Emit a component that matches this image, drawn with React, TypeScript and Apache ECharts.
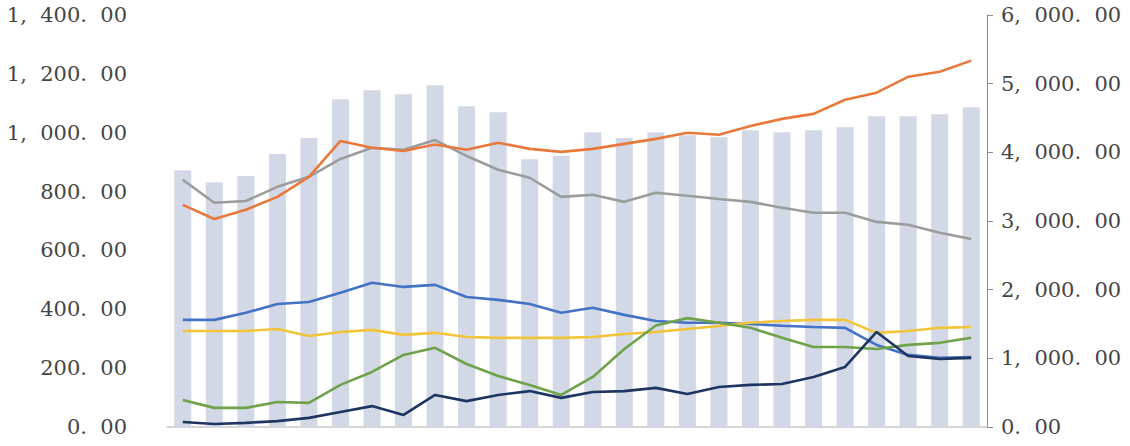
import React, { useEffect, useRef } from "react";
import * as echarts from "echarts";

const categories = Array.from({ length: 26 }, (_, i) => String(i + 1));

const barValues = [3740, 3566, 3654, 3974, 4207, 4774, 4905, 4847, 4978, 4672, 4585, 3900, 3950, 4294, 4207, 4294, 4250, 4220, 4323, 4294, 4323, 4367, 4527, 4527, 4556, 4658];

const orangeValues = [755, 707, 738, 782, 850, 972, 949, 938, 960, 942, 966, 945, 935, 945, 962, 979, 1000, 993, 1023, 1047, 1064, 1112, 1136, 1190, 1207, 1245];
const grayValues = [840, 762, 768, 816, 850, 911, 949, 942, 975, 921, 874, 847, 782, 789, 765, 796, 786, 775, 765, 745, 728, 728, 697, 687, 660, 639];
const blueValues = [364, 364, 388, 418, 425, 456, 490, 476, 483, 442, 432, 418, 388, 405, 381, 360, 354, 354, 350, 344, 340, 337, 279, 245, 235, 238];
const yellowValues = [326, 326, 326, 333, 309, 323, 330, 313, 320, 306, 303, 303, 303, 306, 316, 323, 333, 343, 354, 360, 364, 364, 320, 326, 337, 340];
const greenValues = [92, 65, 65, 85, 82, 143, 187, 245, 269, 214, 173, 143, 109, 170, 265, 345, 370, 354, 337, 303, 272, 272, 265, 279, 286, 303];
const navyValues = [17, 10, 14, 20, 31, 51, 71, 41, 109, 88, 109, 122, 99, 119, 122, 133, 112, 136, 143, 146, 170, 204, 323, 241, 231, 235];

const gap = "\u00a0\u00a0";
const fmt = (v: number) =>
  v
    .toLocaleString("en-US", { minimumFractionDigits: 2, maximumFractionDigits: 2 })
    .replace(/,/g, "," + gap)
    .replace(/\./g, "." + gap);

export default function App() {
  const ref = useRef<HTMLDivElement>(null);
  useEffect(() => {
    if (!ref.current) return;
    const chart = echarts.init(ref.current, null, { renderer: "svg" });
    const labelStyle = {
      fontFamily: "DejaVu Serif",
      fontSize: 21,
      color: "#454545",
      formatter: (v: number) => fmt(v),
    };
    const line = (name: string, data: number[], color: string, z: number) => ({
      name,
      type: "line",
      yAxisIndex: 0,
      data,
      showSymbol: false,
      symbol: "none",
      lineStyle: { color, width: 2.6 },
      itemStyle: { color },
      z,
    });
    chart.setOption({
      animation: false,
      grid: { left: 167, right: 143, top: 15, bottom: 19, containLabel: false },
      xAxis: {
        type: "category",
        data: categories,
        axisLine: { show: true, lineStyle: { color: "#c8c8c8", width: 1.5 } },
        axisTick: { show: false },
        axisLabel: { show: false },
      },
      yAxis: [
        {
          type: "value",
          min: 0,
          max: 1400,
          interval: 200,
          position: "left",
          axisLine: { show: false },
          axisTick: { show: false },
          splitLine: { show: false },
          axisLabel: { ...labelStyle, margin: 40 },
        },
        {
          type: "value",
          min: 0,
          max: 6000,
          interval: 1000,
          position: "right",
          axisLine: { show: true, lineStyle: { color: "#8c8c8c", width: 1 } },
          axisTick: { show: true, inside: false, length: 6, lineStyle: { color: "#8c8c8c" } },
          splitLine: { show: false },
          axisLabel: { ...labelStyle, margin: 14 },
        },
      ],
      series: [
        {
          name: "bar",
          type: "bar",
          yAxisIndex: 1,
          data: barValues,
          barWidth: 17,
          itemStyle: { color: "#d2d8e5" },
          z: 1,
        },
        line("blue", blueValues, "#4472c4", 3),
        line("orange", orangeValues, "#e8793a", 4),
        line("gray", grayValues, "#9c9c9c", 3),
        line("yellow", yellowValues, "#f2c43a", 3),
        line("green", greenValues, "#6fa24a", 3),
        line("navy", navyValues, "#1d3560", 5),
      ],
    });
    return () => chart.dispose();
  }, []);
  return <div ref={ref} style={{ width: 1130, height: 446, position: "absolute", left: 0, top: 0 }} />;
}
